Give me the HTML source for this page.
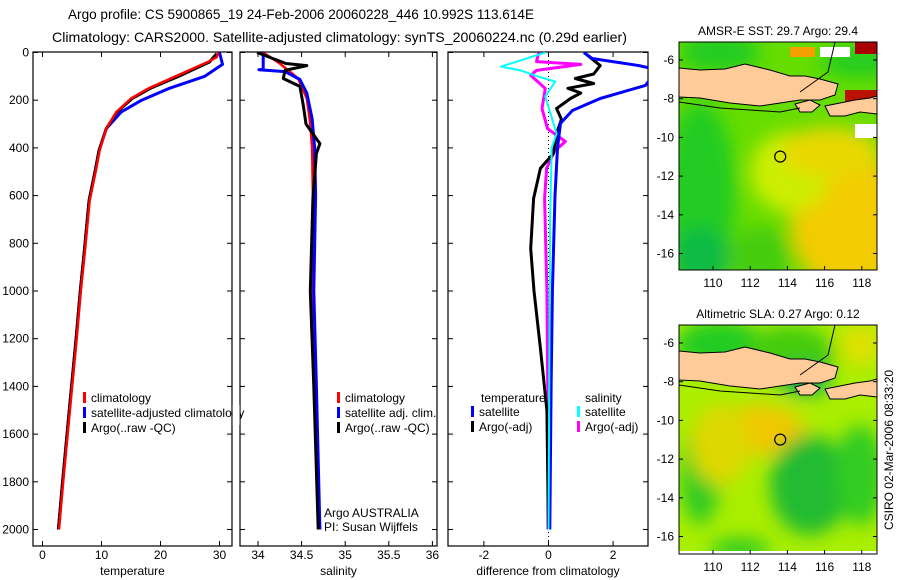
<!DOCTYPE html>
<html><head><meta charset="utf-8"><style>
body{margin:0;background:#fff;}
svg{display:block;font-family:"Liberation Sans",sans-serif;font-size:12px;}
</style></head><body>
<svg id="c" width="900" height="580" viewBox="0 0 900 580">
<defs>
<clipPath id="cp1"><rect x="33" y="52" width="199" height="494"/></clipPath>
<clipPath id="cp2"><rect x="240" y="52" width="197" height="494"/></clipPath>
<clipPath id="cp3"><rect x="448" y="52" width="200" height="494"/></clipPath>
<clipPath id="cm1"><rect x="679" y="42" width="198" height="228"/></clipPath>
<clipPath id="cm2"><rect x="679" y="325" width="198" height="229"/></clipPath>
<filter id="bl" x="-50%" y="-50%" width="200%" height="200%"><feGaussianBlur stdDeviation="9"/></filter>
</defs>
<text x="68" y="19" font-size="14" textLength="466" lengthAdjust="spacingAndGlyphs">Argo profile: CS 5900865_19 24-Feb-2006 20060228_446 10.992S 113.614E</text>
<text x="52" y="42" font-size="14" textLength="575" lengthAdjust="spacingAndGlyphs">Climatology: CARS2000. Satellite-adjusted climatology: synTS_20060224.nc (0.29d earlier)</text>
<g id="plots"></g>
<g id="maps"></g>
<text transform="translate(893,450) rotate(-90)" text-anchor="middle">CSIRO 02-Mar-2006 08:33:20</text>
</svg>
<script>
// ---- data ----
const depthTicks=[0,200,400,600,800,1000,1200,1400,1600,1800,2000];
const tempTicks=[0,10,20,30];
const salTicks=[34,34.5,35,35.5,36];
const diffTicks=[-2,0,2];
const tClimD=[0,20,40,95,150,193,250,320,410,500,620,830,1000,1200,1460,1800,2000];
const tClimV=[29.8,29.5,28,23,18,15,12.5,10.8,9.7,9,8,7.2,6.5,5.8,4.8,3.5,2.8];
const tSatD=[0,50,100,150,200,250,320,410,500,620,830,1000,1200,1460,1800,2000];
const tSatV=[30,30.5,27.5,21.5,16.8,13.3,10.8,9.6,8.9,7.9,7.1,6.4,5.7,4.7,3.4,2.7];
const tArgoD=[5,40,95,150,193,250,320,410,500,620,830,1000,1200,1460,1800,2000];
const tArgoV=[29.5,28.3,23.5,18.3,15.2,12.6,10.8,9.6,8.9,7.9,7.1,6.4,5.7,4.7,3.4,2.7];
const sClimD=[0,46,109,193,300,400,600,1000,1400,1870];
const sClimV=[34.06,34.25,34.46,34.56,34.6,34.62,34.63,34.63,34.65,34.7];
const sSatD=[0,71,72,80,113,170,277,400,600,1000,1400,2000];
const sSatV=[34.06,34.06,34.01,34.31,34.48,34.56,34.62,34.65,34.66,34.64,34.67,34.71];
const sArgoD=[0,46,55,75,109,142,222,300,382,424,612,1000,1400,2000];
const sArgoV=[33.99,34.32,34.56,34.31,34.29,34.48,34.52,34.55,34.71,34.67,34.63,34.6,34.64,34.69];
const dTSatD=[0,25,55,70,85,138,193,243,297,400,600,1000,1400,2000];
const dTSatV=[1.1,1.35,2.8,3.3,3.3,3.0,1.6,0.74,0.37,0.28,0.2,0.12,0.08,0.04];
const dTArgoD=[0,55,90,109,130,150,170,193,235,280,340,424,486,612,822,1000,1240,1500,2000];
const dTArgoV=[1.1,1.6,1.4,0.83,1.4,0.6,1.0,0.68,0.25,0.4,0.25,0.15,-0.25,-0.46,-0.55,-0.45,-0.25,-0.05,0];
const dSSatD=[0,59,75,100,122,184,340,400,700,1200,2000];
const dSSatV=[-0.1,-1.47,-0.86,-0.34,0.21,-0.1,0.25,0.1,0.05,0.03,0];
const dSArgoD=[0,38,50,75,96,151,235,319,373,415,486,612,1000,1500,2000];
const dSArgoV=[-0.3,-0.37,1.0,-0.37,-0.55,-0.1,-0.2,-0.03,0.52,0.18,-0.06,-0.12,-0.05,-0.02,-0.02];
</script>
<script>
const NS='http://www.w3.org/2000/svg';
const P=document.getElementById('plots'),M=document.getElementById('maps');
function el(t,a,p){const e=document.createElementNS(NS,t);for(const k in a)e.setAttribute(k,a[k]);(p||P).appendChild(e);return e;}
const yD=d=>52.5+d*0.2385;
const panels=[
 {x0:33,w:199,xs:v=>42.5+v*5.9,ticks:tempTicks,lab:'temperature',clip:'cp1',name:'temperature-panel'},
 {x0:240,w:197,xs:v=>258+(v-34)*87.2,ticks:salTicks,lab:'salinity',clip:'cp2',name:'salinity-panel'},
 {x0:448,w:200,xs:v=>548.5+v*32.3,ticks:diffTicks,lab:'difference from climatology',clip:'cp3',name:'difference-panel'}];
panels.forEach((p,i)=>{
 const g=el('g',{});
 
 
 const r=el('rect',{x:p.x0,y:52,width:p.w,height:494,fill:'#fff',stroke:'#000','stroke-width':1.2},g);
 
 
 depthTicks.forEach(d=>{
  el('line',{x1:p.x0,x2:p.x0+5,y1:yD(d),y2:yD(d),stroke:'#000'},g);
  el('line',{x1:p.x0+p.w-5,x2:p.x0+p.w,y1:yD(d),y2:yD(d),stroke:'#000'},g);
  if(i==0){const t=el('text',{x:29,y:yD(d)+4,'text-anchor':'end'},g);t.textContent=d;
   
   }
 });
 p.ticks.forEach(v=>{
  const x=p.xs(v);
  el('line',{x1:x,x2:x,y1:52,y2:57,stroke:'#000'},g);
  el('line',{x1:x,x2:x,y1:541,y2:546,stroke:'#000'},g);
  const t=el('text',{x:x,y:559,'text-anchor':'middle'},g);t.textContent=v;
  
  
 });
 const t=el('text',{x:p.x0+p.w/2,y:575,'text-anchor':'middle'},g);t.textContent=p.lab;
 
 
});
const dl=el('line',{x1:panels[2].xs(0),x2:panels[2].xs(0),y1:52,y2:546,stroke:'#000','stroke-dasharray':'1,3'});


function line(p,D,V,col,w,name){
 const pts=D.map((d,i)=>p.xs(V[i]).toFixed(1)+','+yD(d).toFixed(1)).join(' ');
 const l=el('polyline',{points:pts,fill:'none',stroke:col,'stroke-width':w,'clip-path':'url(#'+p.clip+')','stroke-linejoin':'round'});
 
 
}
line(panels[0],tSatD,tSatV,'#00f',3,'temp-satellite-line');
line(panels[0],tArgoD,tArgoV,'#000',3,'temp-argo-line');
line(panels[0],tClimD,tClimV,'#f00',2.5,'temp-climatology-line');
line(panels[1],sClimD,sClimV,'#f00',2.5,'sal-climatology-line');
line(panels[1],sSatD,sSatV,'#00f',3,'sal-satellite-line');
line(panels[1],sArgoD,sArgoV,'#000',3,'sal-argo-line');
line(panels[2],dSArgoD,dSArgoV,'#f0f',3,'diff-sal-argo-line');
line(panels[2],dTArgoD,dTArgoV,'#000',3,'diff-temp-argo-line');
line(panels[2],dTSatD,dTSatV,'#00f',3,'diff-temp-satellite-line');
line(panels[2],dSSatD,dSSatV,'#0ff',2,'diff-sal-satellite-line');
function leg(x,y,col,txt,name){
 if(col){const r=el('rect',{x:x,y:y-10,width:3,height:11,fill:col});
 
 }
 const t=el('text',{x:col?x+8:x,y:y});t.textContent=txt;
 
 
}
leg(83,402,'#f00','climatology','legend-climatology');
leg(83,417,'#00f','satellite-adjusted climatology','legend-satellite-adjusted');
leg(83,432,'#000','Argo(..raw -QC)','legend-argo');
leg(337,402,'#f00','climatology','legend2-climatology');
leg(337,417,'#00f','satellite adj. clim.','legend2-satellite');
leg(337,432,'#000','Argo(..raw -QC)','legend2-argo');
leg(481,402,null,'temperature','legend3-temperature');
leg(585,402,null,'salinity','legend3-salinity');
leg(471,416,'#00f','satellite','legend3-temp-satellite');
leg(471,431,'#000','Argo(-adj)','legend3-temp-argo');
leg(577,416,'#0ff','satellite','legend3-sal-satellite');
leg(577,431,'#f0f','Argo(-adj)','legend3-sal-argo');
el('rect',{x:232.6,y:405,width:7,height:20,fill:'#fff'});
leg(324,517,null,'Argo AUSTRALIA','float-owner');
leg(324,531,null,'PI: Susan Wijffels','float-pi');

// ---- maps ----
const lonTicks=[110,112,114,116,118];
const latTicks=[-6,-8,-10,-12,-14,-16];
function map(y0,h,clip,title,name,blobs,extras){
 const g=el('g',{},M);
 
 
 const lx=v=>713+(v-110)*18.6, ly=v=>(y0+18)+(-6-v)*19.35;
 const c=el('g',{'clip-path':'url(#'+clip+')'},g);
 el('rect',{x:679,y:y0,width:198,height:h,fill:blobs[0]},c);
 const bg=el('g',{filter:'url(#bl)'},c);
 blobs.slice(1).forEach(b=>el('ellipse',{cx:b[0],cy:b[1]+y0,rx:b[2],ry:b[3],fill:b[4]},bg));
 if(extras)extras(c,y0);
 const land=[[[679,26],[700,28],[725,27],[745,22],[770,28],[790,34],[805,34],[820,37],[838,42],[835,53],[820,58],[800,58],[780,61],[760,64],[730,61],[700,56],[679,55]],
  [[795,62],[810,58],[820,63],[812,70],[800,70]],
  [[825,64],[840,61],[855,58],[870,56],[877,54],[877,72],[860,70],[845,74],[830,74]]];
 land.forEach(poly=>{const l=el('polygon',{points:poly.map(q=>q[0]+','+(q[1]+y0)).join(' '),fill:'#ffcc99',stroke:'#000','stroke-width':1},c);
  
  });
 el('polyline',{points:`679,${y0+60} 720,${y0+66} 780,${y0+70} 800,${y0+66}`,fill:'none',stroke:'#000','stroke-width':1},c);
 el('polyline',{points:`835,${y0} 828,${y0+30} 800,${y0+50}`,fill:'none',stroke:'#000','stroke-width':1},c);
 const ci=el('circle',{cx:lx(113.614),cy:ly(-10.992),r:5.5,fill:'none',stroke:'#000','stroke-width':1.2},g);
 
 
 el('rect',{x:679,y:y0,width:198,height:h,fill:'none',stroke:'#000','stroke-width':1},g);
 lonTicks.forEach(v=>{el('line',{x1:lx(v),x2:lx(v),y1:y0+h,y2:y0+h-4,stroke:'#000'},g);
  const t=el('text',{x:lx(v),y:y0+h+17,'text-anchor':'middle'},g);t.textContent=v;
  
  });
 latTicks.forEach(v=>{el('line',{x1:679,x2:683,y1:ly(v),y2:ly(v),stroke:'#000'},g);el('line',{x1:873,x2:877,y1:ly(v),y2:ly(v),stroke:'#000'},g);
  const t=el('text',{x:674,y:ly(v)+4,'text-anchor':'end'},g);t.textContent=v;
  
  });
 const t=el('text',{x:778,y:y0-7,'text-anchor':'middle'},g);t.textContent=title;
 
 
}
map(42,228,'cm1','AMSR-E SST: 29.7 Argo: 29.4','sst-map',
 ['#66dd00',[700,150,35,90,'#22cc22'],[720,10,40,20,'#22cc22'],[850,180,60,70,'#f2cc00'],[790,130,40,40,'#ccee00'],[830,110,50,25,'#e8d800'],[760,215,30,30,'#44cc11'],[700,215,30,30,'#11bb44'],[860,20,40,15,'#22cc22']],
 (c,y0)=>{el('rect',{x:855,y:y0,width:22,height:12,fill:'#aa0000'},c);el('rect',{x:805,y:y0+42,width:30,height:12,fill:'#bb2200'},c);
  el('rect',{x:845,y:y0+48,width:32,height:14,fill:'#bb1100'},c);el('rect',{x:855,y:y0+82,width:22,height:14,fill:'#fff'},c);
  el('rect',{x:820,y:y0+5,width:30,height:10,fill:'#fff'},c);el('rect',{x:790,y:y0+5,width:25,height:10,fill:'#f5a000'},c);});
map(325,229,'cm2','Altimetric SLA: 0.27 Argo: 0.12','sla-map',
 ['#aaee00',[720,20,45,25,'#22cc22'],[790,30,45,30,'#44cc11'],[760,105,45,25,'#f0c800'],[700,150,20,50,'#33cc22'],[810,160,40,50,'#22bb33'],[860,150,25,50,'#33cc22'],[805,55,25,15,'#11aa55'],[720,120,30,40,'#ddd800'],[740,225,30,12,'#33cc22'],[860,20,20,20,'#e0e000']],
 (c,y0)=>{el('rect',{x:679,y:y0+226,width:198,height:4,fill:'#fff'},c);});
</script>
</body></html>
